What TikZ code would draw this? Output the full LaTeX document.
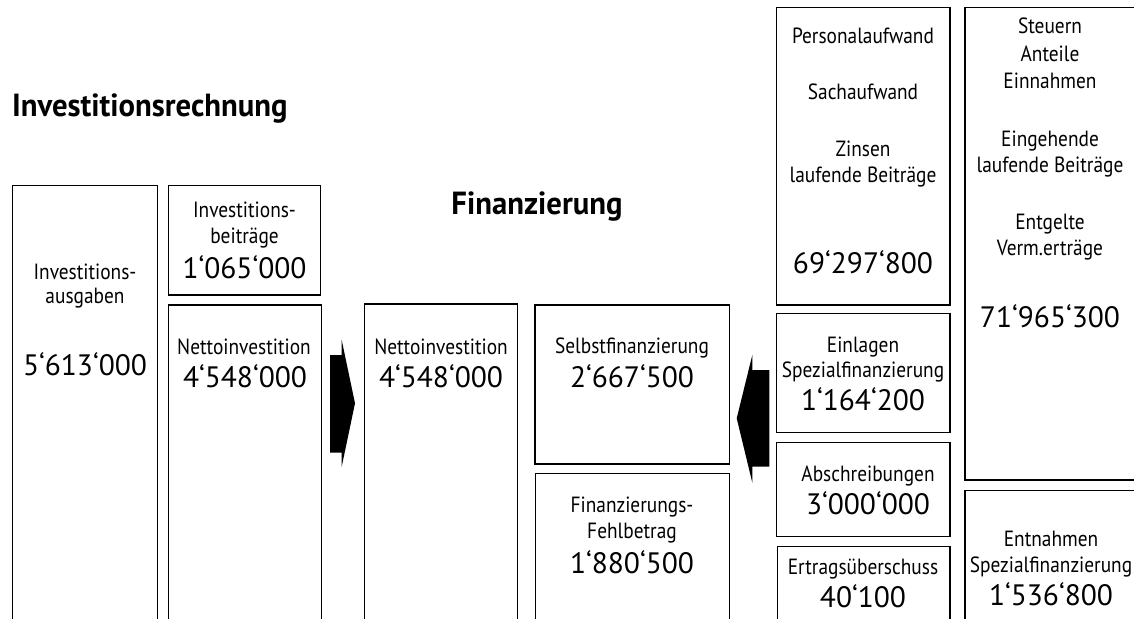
\documentclass[tikz,border=0pt]{standalone}
\usepackage{fontspec}
\setmainfont{PT Sans}
\newfontfamily\narrowlbl[FakeStretch=0.88]{PT Sans}
\newfontfamily\narrowttl[FakeStretch=0.96]{PT Sans}
\begin{document}
\begin{tikzpicture}[x=1pt,y=-1pt,
  box/.style={draw=black,line width=1.1pt},
  lbl/.style={anchor=base,inner sep=0pt,font=\narrowlbl\fontsize{22}{24}\selectfont},
  num/.style={anchor=base,inner sep=0pt,font=\fontsize{29.5}{32}\selectfont},
  ttl/.style={anchor=base,inner sep=0pt,font=\narrowttl\bfseries\fontsize{32}{34}\selectfont},
  arr/.style={fill=black,draw=none}]
\useasboundingbox (0,0) rectangle (1134,618);
\clip (0,0) rectangle (1134,618);
% titles
\node[ttl,anchor=base west] (t1) at (12,116) {Investitionsrechnung};
\node[ttl] (t2) at (537,214) {Finanzierung};
% boxes
\draw[box] (12.7,185.7) rectangle (157.3,640);
\draw[box] (168.3,185.7) rectangle (320.7,295);
\draw[box] (168.7,305) rectangle (321.7,640);
\draw[box] (364.3,304) rectangle (517.7,640);
\draw[box] (535,305) rectangle (729.3,464);
\draw[box] (535.3,473.7) rectangle (729.3,640);
\draw[box] (776.7,7.3) rectangle (950,305);
\draw[box] (776.7,313.3) rectangle (950,432.3);
\draw[box] (776.7,442.7) rectangle (950,536.7);
\draw[box] (777.3,546.7) rectangle (950,640);
\draw[box] (965,7.3) rectangle (1150,480);
\draw[box] (965,490.7) rectangle (1150,640);
% arrows
\fill[arr] (330,355) -- (341.7,355) -- (341.7,340) -- (355,403.3) -- (341.7,466.7) -- (341.7,452.7) -- (330,452.7) -- cycle;
\fill[arr] (769.3,370) -- (752.3,370) -- (752.3,355) -- (736.7,418.3) -- (752.3,482.7) -- (752.3,466.7) -- (769.3,466.7) -- cycle;
% box A
\node[lbl] (a1) at (85,279) {Investitions-};
\node[lbl] (a2) at (85,303) {ausgaben};
\node[num] (a3) at (85,375) {5‘613‘000};
% box B
\node[lbl] (b1) at (244.5,217) {Investitions-};
\node[lbl] (b2) at (244.5,243) {beiträge};
\node[num] (b3) at (244.5,278) {1‘065‘000};
% box C
\node[lbl] (c1) at (244,354) {Nettoinvestition};
\node[num] (c2) at (245,387) {4‘548‘000};
% box D
\node[lbl] (d1) at (441,354) {Nettoinvestition};
\node[num] (d2) at (441,387) {4‘548‘000};
% box E
\node[lbl] (e1) at (632,353) {Selbstfinanzierung};
\node[num] (e2) at (632,387) {2‘667‘500};
% box F
\node[lbl] (f1) at (632,512) {Finanzierungs-};
\node[lbl] (f2) at (632,538) {Fehlbetrag};
\node[num] (f3) at (632,573) {1‘880‘500};
% box G
\node[lbl] (g1) at (863,44) {Personalaufwand};
\node[lbl] (g2) at (863,99) {Sachaufwand};
\node[lbl] (g3) at (863,156) {Zinsen};
\node[lbl] (g4) at (863,182) {laufende Beiträge};
\node[num] (g5) at (863,273) {69‘297‘800};
% box H
\node[lbl] (h1) at (1050,34) {Steuern};
\node[lbl] (h2) at (1050,61) {Anteile};
\node[lbl] (h3) at (1050,88) {Einnahmen};
\node[lbl] (h4) at (1050,146) {Eingehende};
\node[lbl] (h5) at (1050,172) {laufende Beiträge};
\node[lbl] (h6) at (1050,229) {Entgelte};
\node[lbl] (h7) at (1050,255) {Verm.erträge};
\node[num] (h8) at (1050,327) {71‘965‘300};
% box I
\node[lbl] (i1) at (863,352) {Einlagen};
\node[lbl] (i2) at (863,377) {Spezialfinanzierung};
\node[num] (i3) at (863,410) {1‘164‘200};
% box J
\node[lbl] (j1) at (868,481) {Abschreibungen};
\node[num] (j2) at (868,514) {3‘000‘000};
% box K
\node[lbl] (k1) at (863,574) {Ertragsüberschuss};
\node[num] (k2) at (863,607) {40‘100};
% box L
\node[lbl] (l1) at (1051,546) {Entnahmen};
\node[lbl] (l2) at (1051,572) {Spezialfinanzierung};
\node[num] (l3) at (1051,605) {1‘536‘800};
\end{tikzpicture}
\end{document}
